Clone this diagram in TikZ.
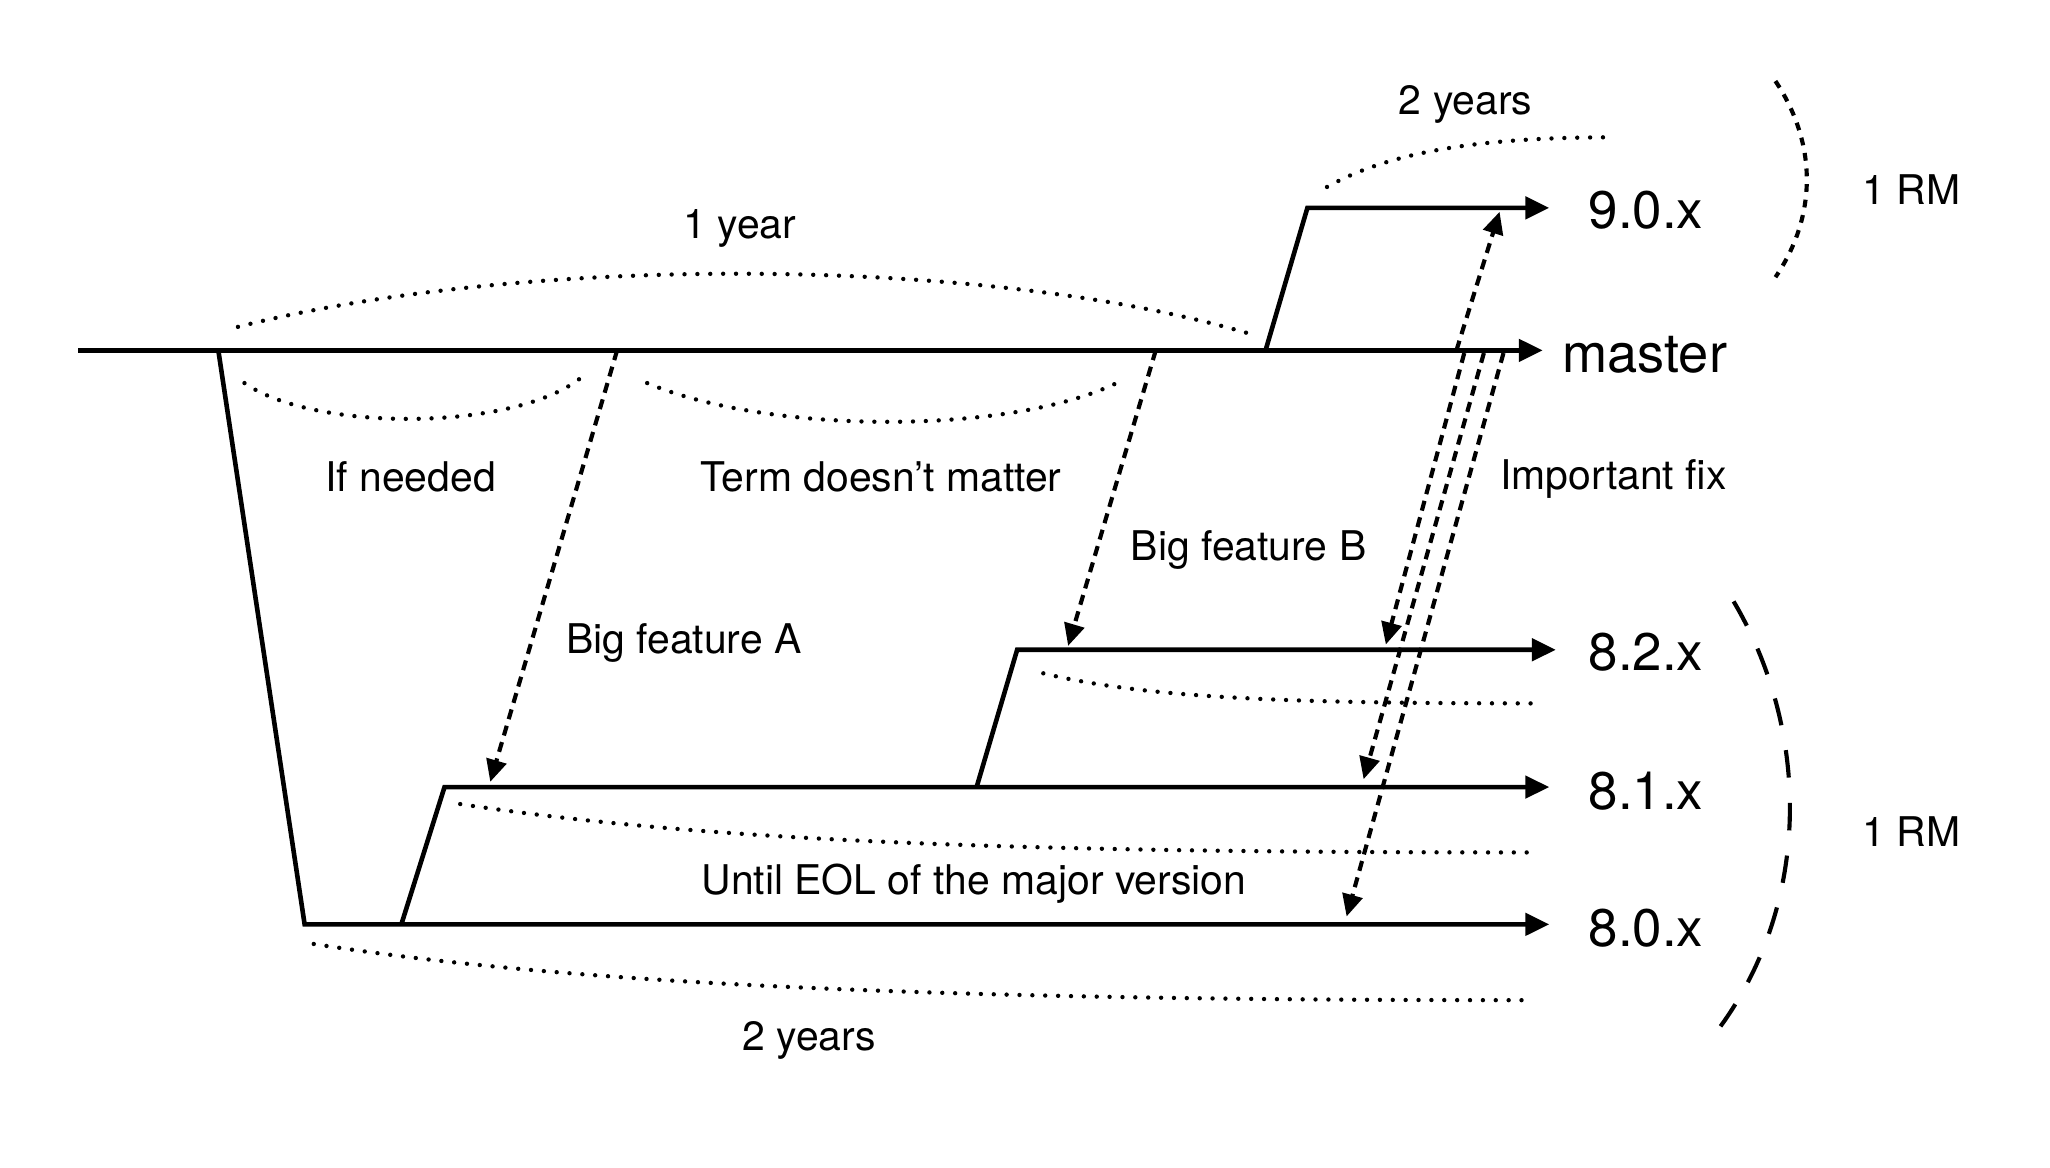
\documentclass[tikz,border=0pt]{standalone}
\usepackage{fontspec}
\setmainfont{TeX Gyre Heros}
\usetikzlibrary{arrows.meta,calc}

\begin{document}
\begin{tikzpicture}[x=0.01cm,y=-0.01cm,
	branch/.style={line width=1pt,-{Triangle[length=5.2pt,width=4.8pt]}},
	merge/.style={line width=0.9pt,dash pattern=on 2.2pt off 1.5pt,-{Triangle[length=4.8pt,width=4.4pt]}},
	span/.style={line width=0.95pt,line cap=round,dash pattern=on 0pt off 2.8pt},
	rmshort/.style={line width=0.9pt,dash pattern=on 1.7pt off 1.7pt},
	rmlong/.style={line width=0.9pt,dash pattern=on 6pt off 5.5pt},
	lbl/.style={font=\fontsize{8.9}{10}\selectfont},
	ver/.style={font=\fontsize{11.5}{13}\selectfont}]
	\useasboundingbox (0,0) rectangle (1568,893);
	% branch points
	\coordinate (m0) at (60,268);
	\coordinate (mEnd) at (1180,268);
	\coordinate (f80) at (167,268);
	\coordinate (s80) at (233,707);
	\coordinate (e80) at (1185,707);
	\coordinate (f81) at (307,707);
	\coordinate (s81) at (340,602);
	\coordinate (e81) at (1185,602);
	\coordinate (f82) at (747,602);
	\coordinate (s82) at (778,497);
	\coordinate (e82) at (1190,497);
	\coordinate (f90) at (968,268);
	\coordinate (s90) at (1000,159);
	\coordinate (e90) at (1185,159);
	% branches
	\draw[branch] (m0) -- (mEnd);
	\draw[branch] (f80) -- (s80) -- (e80);
	\draw[branch] (f81) -- (s81) -- (e81);
	\draw[branch] (f82) -- (s82) -- (e82);
	\draw[branch] (f90) -- (s90) -- (e90);
	\node[ver] (v90) at (1259,161) {9.0.x};
	\node[ver,font=\fontsize{11.8}{14}\selectfont] (vm) at (1258,271) {master};
	\node[ver] (v82) at (1259,499) {8.2.x};
	\node[ver] (v81) at (1259,605) {8.1.x};
	\node[ver] (v80) at (1259,710) {8.0.x};
	% features and fixes
	\coordinate (pA) at (472,268);
	\coordinate (tA) at (375,598);
	\coordinate (pB) at (884,268);
	\coordinate (tB) at (817,494);
	\draw[merge] (pA) -- (tA);
	\draw[merge] (pB) -- (tB);
	\coordinate (x0) at (1114,268);
	\coordinate (x90) at (1147,162);
	\coordinate (x1) at (1120,270);
	\coordinate (x82) at (1060,493);
	\coordinate (x2) at (1135,270);
	\coordinate (x81) at (1043,596);
	\coordinate (x3) at (1150,270);
	\coordinate (x80) at (1030,701);
	\draw[merge] (x0) -- (x90);
	\draw[merge] (x1) -- (x82);
	\draw[merge] (x2) -- (x81);
	\draw[merge] (x3) -- (x80);
	% spans
	\draw[span] (182,250) .. controls (400,195) and (750,195) .. (955,255);
	\draw[span] (1015,143) .. controls (1070,112) and (1150,105) .. (1235,105);
	\draw[span] (187,293) .. controls (240,330) and (390,330) .. (443,290);
	\draw[span] (495,293) .. controls (590,333) and (780,333) .. (860,290);
	\draw[span] (798,515) .. controls (880,535) and (1000,538) .. (1180,538);
	\draw[span] (352,615) .. controls (550,645) and (800,652) .. (1172,652);
	\draw[span] (240,722) .. controls (450,755) and (750,765) .. (1165,765);
	\draw[rmshort] (1358,62) .. controls (1390,110) and (1390,165) .. (1358,212);
	\draw[rmlong] (1326,460) .. controls (1385,560) and (1385,690) .. (1316,785);
	% labels
	\node[lbl] (year1) at (566,175) {1 year};
	\node[lbl] (years2a) at (1121,80) {2 years};
	\node[lbl] (need) at (314,365) {If needed};
	\node[lbl] (term) at (674,365) {Term doesn’t matter};
	\node[lbl] (fix) at (1234,366) {Important fix};
	\node[lbl] (featB) at (955,421) {Big feature B};
	\node[lbl] (featA) at (523,492) {Big feature A};
	\node[lbl] (eol) at (745,676) {Until EOL of the major version};
	\node[lbl] (years2b) at (619,796) {2 years};
	\node[lbl] (rm1) at (1462,145) {1 RM};
	\node[lbl] (rm2) at (1462,636) {1 RM};
\end{tikzpicture}
\end{document}
